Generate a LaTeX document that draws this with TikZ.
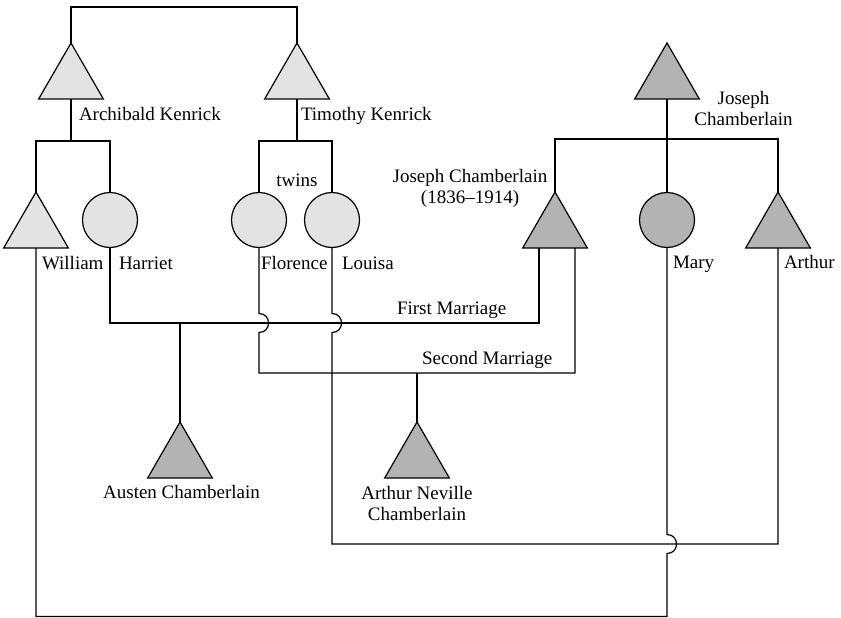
\documentclass[tikz,border=0pt]{standalone}
\usepackage{fontspec}
\setmainfont{Liberation Serif}
\usetikzlibrary{shapes.geometric,calc}
\definecolor{kenrick}{HTML}{E3E3E3}
\definecolor{chamb}{HTML}{B3B3B3}

\begin{document}
\begin{tikzpicture}[x=1pt,y=-1pt,
  male/.style={regular polygon, regular polygon sides=3, minimum size=74.7pt,
    inner sep=0pt, outer sep=0pt, draw=black, line width=1.2pt},
  female/.style={circle, minimum size=55pt, inner sep=0pt, outer sep=0pt,
    draw=black, line width=1.2pt},
  kin/.style={fill=kenrick},
  cham/.style={fill=chamb},
  lbl/.style={font=\fontsize{19}{21.5}\selectfont, inner sep=0pt, outer sep=0pt},
  tie/.style={line width=1.2pt, line join=miter}
]
\useasboundingbox (0,0) rectangle (841,618);

% horizontal levels of the family lines
\coordinate (gtop) at (0,7);
\coordinate (kbar) at (0,141);
\coordinate (jbar) at (0,139);
\coordinate (fm)   at (0,323);
\coordinate (sm)   at (0,373);
\coordinate (lb)   at (0,544);
\coordinate (wb)   at (0,616.5);

% first generation
\node[male,kin]  (ak)  at (71,80.33)  {};
\node[male,kin]  (tk)  at (297,80.33) {};
\node[male,cham] (jcs) at (667,80.33) {};

% second generation
\node[male,kin]    (wm) at (36,229.33)  {};
\node[female,kin]  (hr) at (110,220)    {};
\node[female,kin]  (fl) at (259,220)    {};
\node[female,kin]  (lo) at (332,220)    {};
\node[male,cham]   (jc) at (555,229.33) {};
\node[female,cham] (ma) at (667,220)    {};
\node[male,cham]   (ar) at (778,229.33) {};

% third generation
\node[male,cham] (au) at (180,459.33) {};
\node[male,cham] (an) at (417,459.33) {};

% labels
\node[lbl, anchor=base west] (lak) at (79,120)  {Archibald Kenrick};
\node[lbl, anchor=base west] (ltk) at (301,120) {Timothy Kenrick};
\node[lbl, anchor=base]      (ltw) at (297,186) {twins};
\node[lbl, anchor=base west] (lwm) at (42,269)  {William};
\node[lbl, anchor=base west] (lhr) at (119,269) {Harriet};
\node[lbl, anchor=base west] (lfl) at (261,269) {Florence};
\node[lbl, anchor=base west] (llo) at (342,269) {Louisa};
\node[lbl, anchor=base west] (lma) at (673,268) {Mary};
\node[lbl, anchor=base west] (lar) at (784,268) {Arthur};
\node[lbl, align=center, anchor=north] (ljcs) at (743.5,91) {Joseph\\Chamberlain};
\node[lbl, align=center, anchor=north] (ljc)  at (470,169)  {Joseph Chamberlain\\(1836–1914)};
\node[lbl, anchor=base west] (lfm) at (397,314) {First Marriage};
\node[lbl, anchor=base west] (lsm) at (422,364) {Second Marriage};
\node[lbl, anchor=base]      (lau) at (181.5,498) {Austen Chamberlain};
\node[lbl, align=center, anchor=north] (lan) at (417,486) {Arthur Neville\\Chamberlain};

% the two Kenrick brothers
\draw[tie] (ak.north) |- (tk.north |- gtop) -- (tk.north);

% children of Archibald and of Timothy
\draw[tie] (ak.south) -- (ak.south |- kbar);
\draw[tie] (wm.north) |- (hr.north |- kbar) -- (hr.north);
\draw[tie] (tk.south) -- (tk.south |- kbar);
\draw[tie] (fl.north) |- (lo.north |- kbar) -- (lo.north);

% children of Joseph Chamberlain senior
\draw[tie] (jcs.south) -- (ma.north);
\draw[tie] (jc.north) |- (ar.north |- jbar) -- (ar.north);

% the two marriages of Joseph Chamberlain
\coordinate (jcA) at ($(jc.south)+(-16,0)$);
\coordinate (jcB) at ($(jc.south)+(20,0)$);
\coordinate (xFl) at (fl.south |- fm);
\coordinate (xLo) at (lo.south |- fm);
\coordinate (xMa) at (ma.south |- lb);

\draw[tie] (hr.south) |- (jcA |- fm) -- (jcA);
\draw[tie] (fl.south) -- ($(xFl)+(0,-9.5)$)
  .. controls ($(xFl)+(12.7,-9.5)$) and ($(xFl)+(12.7,9.5)$) .. ($(xFl)+(0,9.5)$)
  |- (jcB |- sm) -- (jcB);

% Louisa and Arthur
\draw[tie] (lo.south) -- ($(xLo)+(0,-9.5)$)
  .. controls ($(xLo)+(12.7,-9.5)$) and ($(xLo)+(12.7,9.5)$) .. ($(xLo)+(0,9.5)$)
  |- (ar.south |- lb) -- (ar.south);

% William and Mary
\draw[tie] (ma.south) -- ($(xMa)+(0,-9.5)$)
  .. controls ($(xMa)+(12.7,-9.5)$) and ($(xMa)+(12.7,9.5)$) .. ($(xMa)+(0,9.5)$)
  |- (wm.south |- wb) -- (wm.south);

% sons of the two marriages
\draw[tie] (au.north) -- (au.north |- fm);
\draw[tie] (an.north) -- (an.north |- sm);
\end{tikzpicture}
\end{document}
